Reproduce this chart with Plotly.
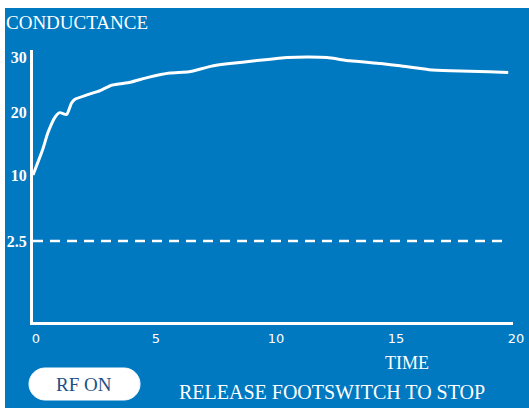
import numpy as np
import plotly.graph_objects as go

# ---- data ----
TIME = [0, 0.4, 0.62, 0.92, 1.12, 1.4, 1.6, 1.75, 2.25, 2.8, 3.3, 4.05, 4.8,
        5.7, 6.5, 7.4, 8.2, 9.25, 10.6, 11.5, 12.25, 13.2, 14.5, 15.3, 16.5,
        17.4, 19.0, 19.8]
CONDUCTANCE = [10, 14.0, 16.7, 19.2, 19.9, 19.6, 21.6, 22.3, 23.1, 23.9, 24.9,
               25.4, 26.3, 27.1, 27.3, 28.3, 28.8, 29.3, 29.9, 30.0, 29.9, 29.3,
               28.8, 28.4, 27.7, 27.5, 27.3, 27.2]
THRESHOLD = 2.5
THRESHOLD_TIME = [0, 19.8]
X_TICKS = [0, 5, 10, 15, 20]
Y_TICKS = [2.5, 10, 20, 30]
Y_TICK_LABELS = ["2.5", "10", "20", "30"]

# device's non-linear conductance scale (value -> display height)
SCALE_VALUES = [0, 2.5, 10, 20, 30]
SCALE_HEIGHTS = [0, 81, 147, 210, 265]


def to_display(v):
    return np.interp(v, SCALE_VALUES, SCALE_HEIGHTS)


BLUE = "#0079C1"
W, H = 529, 408
ML, MR, MT, MB = 33, 16, 50, 86
PW, PH = W - ML - MR, H - MT - MB


def px(x):
    return (x - ML) / PW


def py(y):
    return (H - MB - y) / PH


fig = go.Figure()
fig.add_trace(go.Scatter(
    x=THRESHOLD_TIME, y=to_display([THRESHOLD, THRESHOLD]), mode="lines",
    line=dict(color="white", width=2.5, dash="10px,7px"), hoverinfo="skip"))
fig.add_trace(go.Scatter(
    x=TIME, y=to_display(CONDUCTANCE), mode="lines",
    line=dict(color="white", width=3, shape="spline", smoothing=0.5)))

fig.update_layout(
    width=W, height=H, margin=dict(l=ML, r=MR, t=MT, b=MB, autoexpand=False),
    paper_bgcolor=BLUE, plot_bgcolor=BLUE, showlegend=False,
    xaxis=dict(range=[0, 20], tickvals=X_TICKS, showgrid=False, zeroline=False,
               showline=True, linecolor="white", linewidth=3, ticks="",
               automargin=False, ticklabelshift=3, ticklabelstandoff=2,
               tickfont=dict(family="DejaVu Sans", size=13, color="white")),
    yaxis=dict(range=[0, PH], tickvals=list(to_display(Y_TICKS)),
               ticktext=Y_TICK_LABELS, showgrid=False, zeroline=False,
               showline=True, linecolor="white", linewidth=3, ticks="",
               ticklabelstandoff=0, automargin=False,
               tickfont=dict(family="Liberation Serif", size=16, color="white",
                             weight="bold")),
)

# white frame edges
fig.add_shape(type="rect", xref="paper", yref="paper", x0=px(0), x1=px(W),
              y0=py(8), y1=py(0), fillcolor="white", line_width=0)
fig.add_shape(type="rect", xref="paper", yref="paper", x0=px(0), x1=px(5),
              y0=py(H), y1=py(0), fillcolor="white", line_width=0)

# RF ON pill
hw, r = 55.5, 16
k = r * 0.5523
path = (f"M {-hw + r},{-r} L {hw - r},{-r} "
        f"C {hw - r + k},{-r} {hw},{-k} {hw},0 "
        f"C {hw},{k} {hw - r + k},{r} {hw - r},{r} "
        f"L {-hw + r},{r} "
        f"C {-hw + r - k},{r} {-hw},{k} {-hw},0 "
        f"C {-hw},{-k} {-hw + r - k},{-r} {-hw + r},{-r} Z")
fig.add_shape(type="path", xref="paper", yref="paper", xsizemode="pixel",
              ysizemode="pixel", xanchor=px(84.5), yanchor=py(384), path=path,
              fillcolor="white", line=dict(color="white", width=1))

serif = "Liberation Serif"
fig.add_annotation(text="CONDUCTANCE", xref="paper", yref="paper", x=px(4),
                   y=py(23), xanchor="left", yanchor="middle", showarrow=False,
                   font=dict(family=serif, size=19, color="white"))
fig.add_annotation(text="TIME", xref="paper", yref="paper", x=px(407),
                   y=py(363), xanchor="center", yanchor="middle", showarrow=False,
                   font=dict(family=serif, size=18, color="white"))
fig.add_annotation(text="RF ON", xref="paper", yref="paper", x=px(84),
                   y=py(384), xanchor="center", yanchor="middle", showarrow=False,
                   font=dict(family=serif, size=19, color="#1d4f86"))
fig.add_annotation(text="RELEASE FOOTSWITCH TO STOP", xref="paper", yref="paper",
                   x=px(332), y=py(392), xanchor="center", yanchor="middle",
                   showarrow=False,
                   font=dict(family=serif, size=20, color="white"))

fig.write_html("out.html", config={"displayModeBar": False},
               post_script="document.body.style.margin='0';"
                           "document.body.style.overflow='hidden';")
